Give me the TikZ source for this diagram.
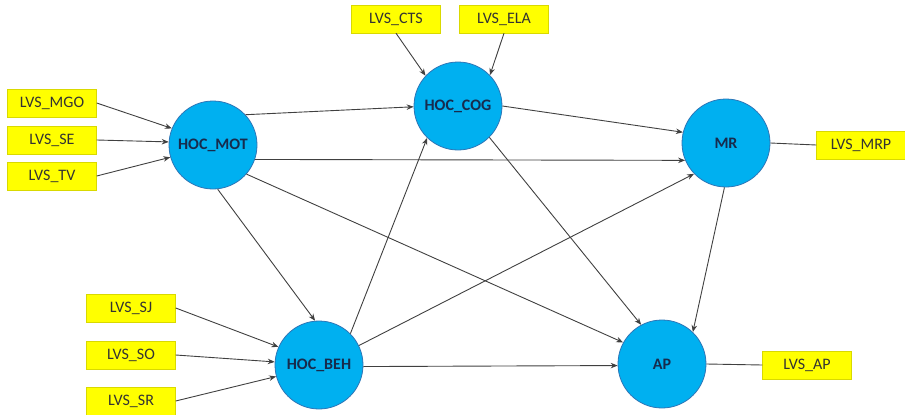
\documentclass[tikz,border=0pt]{standalone}
\usepackage{fontspec}
\setmainfont{Carlito}
\usetikzlibrary{arrows.meta}
\definecolor{circfill}{HTML}{00B0F0}
\definecolor{circdraw}{HTML}{2E75B6}
\definecolor{circtext}{HTML}{172B4D}
\definecolor{boxfill}{HTML}{FFFF00}
\definecolor{boxtext}{HTML}{333333}
\definecolor{edgecol}{HTML}{404040}
\begin{document}
\begin{tikzpicture}[x=1pt,y=-1pt,
  latent/.style={circle,fill=circfill,draw=circdraw,line width=0.8pt,minimum size=88pt,inner sep=0pt,
    text=circtext,font=\fontsize{16}{18}\selectfont\bfseries},
  indic/.style={rectangle,fill=boxfill,draw=boxfill!85!black,line width=0.4pt,minimum width=89pt,minimum height=28pt,inner sep=0pt,
    text=boxtext,font=\fontsize{16}{18}\selectfont},
  link/.style={draw=edgecol,line width=0.9pt,-{Stealth[length=7pt,width=5.5pt]}},
  plain/.style={draw=edgecol,line width=0.9pt}]
\useasboundingbox (0,0) rectangle (905,415);
% latent variables
\node[latent] (mot) at (213,145) {HOC\_MOT};
\node[latent] (cog) at (458,106) {HOC\_COG};
\node[latent] (mr)  at (726,143) {MR};
\node[latent] (beh) at (319,365) {HOC\_BEH};
\node[latent] (ap)  at (662,364) {AP};
% indicators
\node[indic] (mgo) at (52,103) {LVS\_MGO};
\node[indic] (se)  at (52,140) {LVS\_SE};
\node[indic] (tv)  at (52,176) {LVS\_TV};
\node[indic] (cts) at (396,19) {LVS\_CTS};
\node[indic] (ela) at (504,19) {LVS\_ELA};
\node[indic] (mrp) at (861,145) {LVS\_MRP};
\node[indic] (sj)  at (131,308) {LVS\_SJ};
\node[indic] (so)  at (131,355) {LVS\_SO};
\node[indic] (sr)  at (131,401) {LVS\_SR};
\node[indic] (lap) at (807,365) {LVS\_AP};
% indicator links
\draw[link] (mgo.east) -- (mot.158);
\draw[link] (se.east) -- (mot.176);
\draw[link] (tv.east) -- (mot.196);
\draw[link] (cts.south) -- (cog.137);
\draw[link] (ela.south) -- (cog.44);
\draw[link] (sj.east) -- (beh.156);
\draw[link] (so.east) -- (beh.176);
\draw[link] (sr.east) -- (beh.195);
\draw[plain] (mr.east) -- (mrp.west);
\draw[plain] (ap.east) -- (lap.west);
% structural paths
\draw[link] (mot.43) -- (cog.181);
\draw[link] (mot.341) -- (mr.203);
\draw[link] (mot.276) -- (beh.95);
\draw[link] (mot.319) -- (ap.151);
\draw[link] (cog.0) -- (mr.166);
\draw[link] (cog.315) -- (ap.118);
\draw[link] (beh.45) -- (cog.226);
\draw[link] (beh.26) -- (mr.224);
\draw[link] (beh.358) -- (ap.182);
\draw[link] (mr.268) -- (ap.46);
\end{tikzpicture}
\end{document}
